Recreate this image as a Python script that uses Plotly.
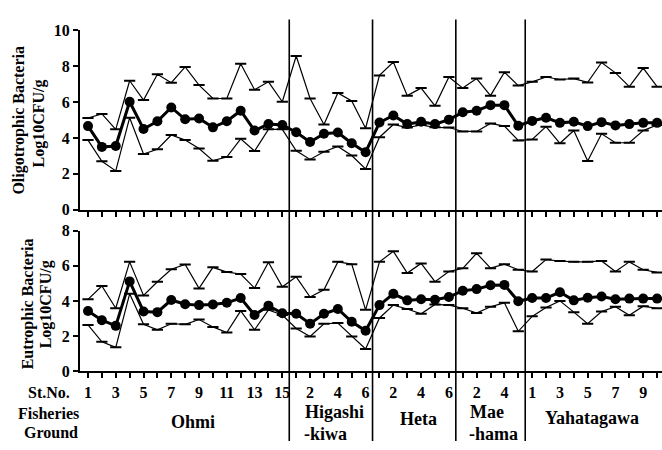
import plotly.graph_objects as go

# Fisheries grounds and number of sampling stations in each
grounds = ["Ohmi", "Higashi-kiwa", "Heta", "Mae-hama", "Yahatagawa"]
stations_per_ground = [15, 6, 6, 5, 10]

# Station numbers printed under the axis (others get a tick only)
labelled_stations = {
    "Ohmi": [1, 3, 5, 7, 9, 11, 13, 15],
    "Higashi-kiwa": [2, 4, 6],
    "Heta": [2, 4, 6],
    "Mae-hama": [2, 4],
    "Yahatagawa": [1, 3, 5, 7, 9],
}

# Oligotrophic bacteria, Log10 CFU/g (maximum, mean, minimum per station)
oligo_max = [5.11, 5.34, 4.48, 7.19, 6.11, 7.55, 7.08, 7.96, 6.95, 6.20, 6.20, 8.14, 6.69, 7.13, 6.02,
             8.57, 6.20, 4.75, 6.51, 6.06, 4.54,
             7.49, 8.24, 6.36, 6.78, 5.79, 7.40,
             6.78, 7.31, 6.36, 7.67, 6.92,
             7.13, 7.40, 7.26, 7.31, 7.10, 8.21, 7.63, 6.86, 7.90, 6.86]
oligo_mean = [4.66, 3.50, 3.55, 6.02, 4.50, 4.93, 5.70, 5.04, 5.08, 4.59, 4.93, 5.52, 4.41, 4.77, 4.72,
              4.32, 3.77, 4.23, 4.30, 3.70, 3.20,
              4.86, 5.25, 4.77, 4.90, 4.77, 5.02,
              5.43, 5.52, 5.83, 5.83, 4.68,
              4.95, 5.13, 4.84, 4.90, 4.66, 4.88, 4.70, 4.77, 4.84, 4.84]
oligo_min = [3.88, 2.70, 2.16, 5.13, 3.10, 3.37, 4.16, 3.88, 3.41, 2.73, 2.93, 3.95, 3.27, 4.48, 4.48,
             3.28, 2.80, 3.23, 3.52, 3.02, 2.27,
             4.04, 4.75, 4.58, 4.72, 4.59, 4.58,
             4.36, 4.36, 4.81, 4.66, 3.86,
             3.91, 4.63, 3.70, 4.41, 2.71, 4.23, 3.73, 3.73, 4.41, 4.72]

# Eutrophic bacteria, Log10 CFU/g (maximum, mean, minimum per station)
eutro_max = [4.09, 4.85, 3.58, 6.22, 4.31, 5.09, 5.80, 6.07, 4.71, 5.91, 5.64, 5.53, 4.73, 6.20, 4.80,
             5.37, 4.22, 4.63, 6.22, 6.09, 3.49,
             6.22, 6.82, 5.58, 6.13, 5.09, 5.67,
             5.85, 6.71, 5.86, 6.09, 5.77,
             5.67, 6.35, 6.27, 6.22, 6.22, 6.27, 5.67, 6.22, 5.77, 5.62]
eutro_mean = [3.43, 2.90, 2.58, 5.11, 3.40, 3.36, 4.05, 3.81, 3.76, 3.80, 3.89, 4.16, 3.20, 3.73, 3.30,
              3.27, 2.70, 3.27, 3.54, 2.81, 2.30,
              3.76, 4.40, 4.03, 4.09, 4.07, 4.22,
              4.58, 4.67, 4.89, 4.91, 3.98,
              4.16, 4.16, 4.49, 4.03, 4.18, 4.25, 4.09, 4.13, 4.13, 4.13]
eutro_min = [2.63, 1.67, 1.36, 4.40, 2.67, 2.36, 2.70, 2.67, 2.94, 2.52, 2.20, 3.43, 2.36, 3.49, 3.20,
             2.43, 1.98, 2.70, 2.74, 1.98, 1.27,
             3.03, 3.76, 3.54, 3.27, 3.80, 3.76,
             3.58, 3.31, 3.67, 3.89, 2.27,
             3.12, 3.62, 4.00, 3.36, 2.70, 3.40, 3.67, 3.18, 3.70, 3.58]

oligo_ticks = [0, 2, 4, 6, 8, 10]
eutro_ticks = [0, 2, 4, 6, 8]

W, H = 662, 450
SERIF = "Liberation Serif"

# Sequential x position for every station, plus tick text and ground boundaries
xs, ticktext, boundaries = [], [], []
pos = 0
for g, n in zip(grounds, stations_per_ground):
    for s in range(1, n + 1):
        xs.append(pos)
        ticktext.append(f"<b>{s}</b>" if s in labelled_stations[g] else "")
        pos += 1
    boundaries.append(pos - 0.5)
boundaries = boundaries[:-1]

fig = go.Figure()


def add_panel(ymax, ymean, ymin, xa, ya):
    for vals in (ymax, ymin):
        fig.add_trace(go.Scatter(
            x=xs, y=vals, xaxis=xa, yaxis=ya, mode="lines+markers",
            line=dict(color="black", width=1.2),
            marker=dict(symbol="line-ew", size=8, line=dict(color="black", width=2)),
            showlegend=False, hoverinfo="skip"))
    fig.add_trace(go.Scatter(
        x=xs, y=ymean, xaxis=xa, yaxis=ya, mode="lines+markers",
        line=dict(color="black", width=3),
        marker=dict(symbol="circle", size=10, color="black"),
        showlegend=False, hoverinfo="skip"))


add_panel(oligo_max, oligo_mean, oligo_min, "x", "y")
add_panel(eutro_max, eutro_mean, eutro_min, "x2", "y2")

px_per_station = 13.88
x_left_px = 80
first_station_px = 88
x0 = -(first_station_px - x_left_px) / px_per_station
x1 = x0 + (W - x_left_px) / px_per_station

common_x = dict(
    range=[x0, x1], domain=[x_left_px / W, 1], showgrid=False, zeroline=False,
    showline=True, linecolor="black", linewidth=2.2,
    ticks="outside", ticklen=5, tickwidth=1.5, tickcolor="black",
    tickmode="array", tickvals=xs, ticktext=ticktext,
    tickfont=dict(family=SERIF, size=16, color="black"),
)
common_y = dict(
    showgrid=False, zeroline=False, showline=True, linecolor="black", linewidth=2.2,
    ticks="outside", ticklen=5, tickwidth=1.5, tickcolor="black", tickmode="array",
    tickfont=dict(family=SERIF, size=16, color="black"),
)

fig.update_layout(
    width=W, height=H,
    margin=dict(l=0, r=0, t=0, b=0),
    paper_bgcolor="white", plot_bgcolor="white",
    xaxis=dict(common_x, anchor="y", showticklabels=False),
    xaxis2=dict(common_x, anchor="y2", matches="x", showticklabels=True),
    yaxis=dict(common_y, domain=[1 - 209.5 / H, 1 - 23.3 / H], range=[0, 10],
               tickvals=oligo_ticks, ticktext=[f"<b>{v}</b>" for v in oligo_ticks], anchor="x"),
    yaxis2=dict(common_y, domain=[1 - 377.5 / H, 1 - 231.3 / H], range=[0, 8],
                tickvals=eutro_ticks, ticktext=[f"<b>{v}</b>" for v in eutro_ticks], anchor="x2"),
)

# Vertical separators between fisheries grounds, running through both panels
for b in boundaries:
    fig.add_shape(type="line", xref="x", yref="paper", x0=b, x1=b, y0=0, y1=1 - 12 / H,
                  line=dict(color="black", width=1.6))


def ann(text, xp, yp, size, angle=0):
    fig.add_annotation(text=f"<b>{text}</b>", xref="paper", yref="paper", x=xp / W, y=1 - yp / H,
                       xanchor="center", yanchor="middle", showarrow=False, textangle=angle,
                       borderpad=0, font=dict(family=SERIF, size=size, color="black"))


# Axis titles
ann("Oligotrophic Bacteria", 19, 117, 16, -90)
ann("Log10CFU/g", 39, 120, 16, -90)
ann("Eutrophic Bacteria", 28, 308, 16, -90)
ann("Log10CFU/g", 46, 308, 16, -90)

# Row headings under the lower axis
ann("St.No.", 49, 400, 16)
ann("Fisheries", 48, 421, 16)
ann("Ground", 51, 441, 16)

# Ground names under their stations
ann("Ohmi", 193, 430, 18)
ann("Higashi", 334, 420, 18)
ann("-kiwa", 325, 443, 18)
ann("Heta", 418, 427, 18)
ann("Mae", 487, 420, 18)
ann("-hama", 493, 443, 18)
ann("Yahatagawa", 592, 426, 18)

fig.write_html("out.html")
